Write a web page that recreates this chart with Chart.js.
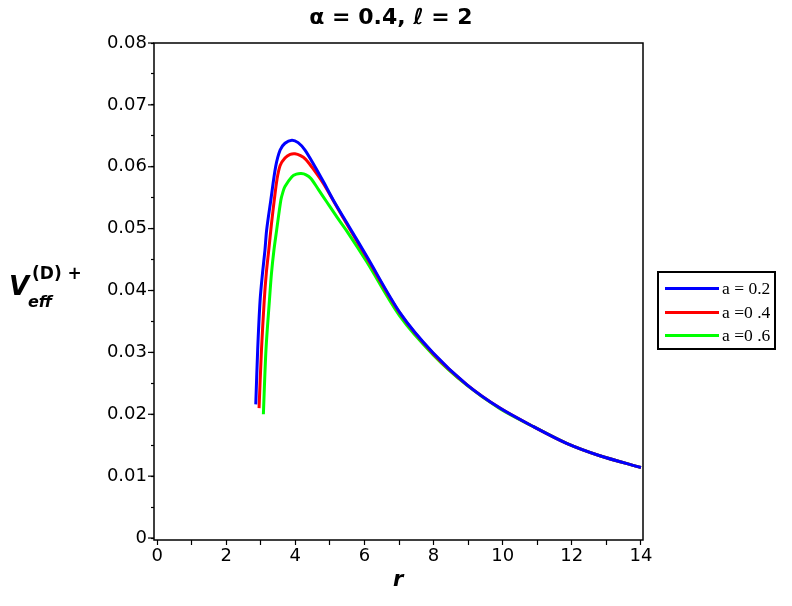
<!DOCTYPE html>
<html>
<head>
<meta charset="utf-8">
<script src="https://cdn.jsdelivr.net/npm/chart.js@4.4.1/dist/chart.umd.min.js"></script>
<style>
  body { margin: 0; background: #fff; }
  #wrap { position: relative; width: 792px; height: 606px; font-family: "DejaVu Sans", sans-serif; }
  #wrap canvas { position: absolute; left: 0; top: 0; }
  .lbl { position: absolute; white-space: nowrap; color: #000; line-height: 1; }
  #title { left: 0; width: 782px; top: 6px; text-align: center; font-weight: bold; font-size: 22px; }
  #xlab { left: 393px; top: 569px; font-weight: bold; font-style: italic; font-size: 21px; }
  #yV { left: 9px; top: 273px; font-weight: bold; font-style: italic; font-size: 26px; }
  #ySup { left: 32px; top: 265px; font-weight: bold; font-size: 17px; }
  #ySub { left: 28px; top: 294px; font-weight: bold; font-style: italic; font-size: 16px; }
  #legend { position: absolute; left: 657px; top: 271px; width: 115px; height: 75px; border: 2px solid #000; }
  .row { position: absolute; left: 4px; height: 20px; }
  .row span.sw { position: absolute; left: 2px; top: 9px; width: 54px; height: 3px; }
  .row span.tx { position: absolute; left: 59px; top: 0px; font-family: "Liberation Serif", serif; font-size: 17.5px; white-space: nowrap; }
</style>
</head>
<body>
<div id="wrap">
  <canvas id="c" width="792" height="606"></canvas>
  <div class="lbl" id="title">α = 0.4, ℓ = 2</div>
  <div class="lbl" id="xlab">r</div>
  <div class="lbl" id="yV">V</div>
  <div class="lbl" id="ySup">(D) +</div>
  <div class="lbl" id="ySub">eff</div>
  <div id="legend"></div>
</div>
<script>
// 讀圖取得的數值 (r, V)
const seriesLabels = ["a = 0.2", "a =0 .4", "a =0 .6"];
const seriesColors = ["#0000ff", "#ff0000", "#00ff00"];

const rBlue = [2.855, 2.91, 2.98, 3.05, 3.12, 3.17, 3.29, 3.43, 3.56, 3.70, 3.90, 4.08, 4.28, 4.57, 4.83, 5.10, 5.60, 6.07, 7.03, 7.99, 8.96, 9.92, 10.89, 11.85, 12.81, 14.0];
const vBlue = [0.0216, 0.0304, 0.0384, 0.0428, 0.0465, 0.0498, 0.0546, 0.0600, 0.0627, 0.0638, 0.0643, 0.0639, 0.0627, 0.0600, 0.0574, 0.0546, 0.0499, 0.0455, 0.0364, 0.0299, 0.0248, 0.0210, 0.0180, 0.0153, 0.0133, 0.0114];

const rRed = [2.95, 3.02, 3.10, 3.16, 3.23, 3.31, 3.39, 3.47, 3.56, 3.70, 3.85, 3.99, 4.15, 4.30, 4.47, 4.81, 5.10, 5.60, 6.07, 7.03, 7.99, 8.96, 9.92, 10.89, 11.85, 12.81, 14.0];
const vRed = [0.0210, 0.0304, 0.0384, 0.0428, 0.0465, 0.0508, 0.0546, 0.0580, 0.0602, 0.0614, 0.0620, 0.0621, 0.0618, 0.0612, 0.0600, 0.0573, 0.0545, 0.0497, 0.0453, 0.0363, 0.0298, 0.0248, 0.0210, 0.0180, 0.0153, 0.0133, 0.0114];

const rGreen = [3.075, 3.15, 3.25, 3.31, 3.38, 3.46, 3.58, 3.64, 3.70, 3.90, 4.03, 4.17, 4.31, 4.45, 4.67, 4.91, 5.20, 5.49, 6.07, 7.03, 7.99, 8.96, 9.92, 10.89, 11.85, 12.81, 14.0];
const vGreen = [0.0200, 0.0304, 0.0384, 0.0428, 0.0465, 0.0498, 0.0546, 0.0559, 0.0568, 0.0584, 0.0588, 0.0589, 0.0587, 0.0581, 0.0563, 0.0543, 0.0519, 0.0496, 0.0446, 0.0358, 0.0296, 0.0247, 0.0209, 0.0180, 0.0153, 0.0133, 0.0114];

const xTickValues = [0, 1, 2, 3, 4, 5, 6, 7, 8, 9, 10, 11, 12, 13, 14];
const yTickValues = [0, 0.005, 0.01, 0.015, 0.02, 0.025, 0.03, 0.035, 0.04, 0.045, 0.05, 0.055, 0.06, 0.065, 0.07, 0.075, 0.08];

function toPoints(rs, vs) {
    return rs.map((r, i) => ({ x: r, y: vs[i] }));
}

const allSeries = [
    toPoints(rBlue, vBlue),
    toPoints(rRed, vRed),
    toPoints(rGreen, vGreen)
];

// 圖例 (HTML 方框)
const legendBox = document.getElementById('legend');
seriesLabels.forEach((lab, i) => {
    const row = document.createElement('div');
    row.className = 'row';
    row.style.top = (5 + i * 23.5) + 'px';
    row.innerHTML = `<span class="sw" style="background:${seriesColors[i]}"></span><span class="tx">${lab}</span>`;
    legendBox.appendChild(row);
});

// 外框 + y 軸主刻度加長
const framePlugin = {
    id: 'frame',
    afterDraw(chart) {
        const { ctx, chartArea: a, scales } = chart;
        ctx.save();
        ctx.strokeStyle = '#000';
        ctx.lineWidth = 1.5;
        ctx.strokeRect(a.left, a.top, a.right - a.left, a.bottom - a.top);
        ctx.lineWidth = 1.2;
        yTickValues.forEach((v, i) => {
            if (i % 2 !== 0) return;
            const y = scales.y.getPixelForValue(v);
            ctx.beginPath();
            ctx.moveTo(a.left, y);
            ctx.lineTo(a.left - 6, y);
            ctx.stroke();
        });
        ctx.restore();
    }
};

new Chart(document.getElementById('c'), {
    type: 'line',
    data: {
        datasets: allSeries.map((pts, i) => ({
            label: seriesLabels[i],
            data: pts,
            borderColor: seriesColors[i],
            borderWidth: 3,
            pointRadius: 0,
            fill: false,
            tension: 0.3
        }))
    },
    options: {
        responsive: false,
        animation: false,
        layout: { padding: { left: 0, top: 43, right: 149, bottom: 0 } },
        plugins: { legend: { display: false }, tooltip: { enabled: false } },
        scales: {
            x: {
                type: 'linear',
                min: -0.09,
                max: 14.06,
                afterFit: s => { s.height = 66; },
                afterBuildTicks: s => { s.ticks = xTickValues.map(v => ({ value: v })); },
                grid: { drawOnChartArea: false, tickLength: 5, color: '#000', tickWidth: 1.2 },
                border: { display: false },
                ticks: {
                    color: '#000',
                    padding: 1,
                    maxRotation: 0,
                    autoSkip: false,
                    font: { family: 'DejaVu Sans', size: 18 },
                    callback: v => (v % 2 === 0 ? String(v) : '')
                }
            },
            y: {
                type: 'linear',
                min: -0.00032,
                max: 0.08,
                afterFit: s => { s.width = 154; },
                afterBuildTicks: s => { s.ticks = yTickValues.map(v => ({ value: v })); },
                grid: { drawOnChartArea: false, tickLength: 3, color: '#000', tickWidth: 1.2 },
                border: { display: false },
                ticks: {
                    color: '#000',
                    padding: 4,
                    autoSkip: false,
                    font: { family: 'DejaVu Sans', size: 18 },
                    callback: (v, i) => {
                        if (i % 2 !== 0) return '';
                        return v === 0 ? '0' : v.toFixed(2);
                    }
                }
            }
        }
    },
    plugins: [framePlugin]
});
</script>
</body>
</html>
